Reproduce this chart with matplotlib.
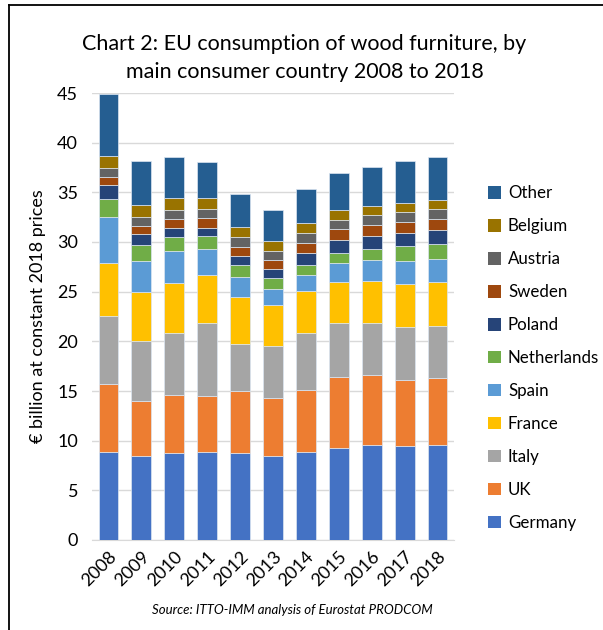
import numpy as np
import matplotlib
matplotlib.use("Agg")
import matplotlib.pyplot as plt
from matplotlib.patches import Patch
from matplotlib.lines import Line2D

plt.rcParams["font.family"] = ["Lato", "DejaVu Sans"]

years = ["2008", "2009", "2010", "2011", "2012", "2013", "2014", "2015", "2016", "2017", "2018"]

germany = [8.83, 8.46, 8.76, 8.83, 8.76, 8.46, 8.83, 9.23, 9.54, 9.47, 9.54]
uk = [6.85, 5.51, 5.88, 5.71, 6.25, 5.84, 6.31, 7.22, 7.08, 6.68, 6.78]
italy = [6.92, 6.11, 6.21, 7.32, 4.77, 5.18, 5.65, 5.38, 5.21, 5.27, 5.27]
france = [5.27, 4.84, 5.01, 4.84, 4.67, 4.13, 4.23, 4.19, 4.26, 4.37, 4.37]
spain = [4.60, 3.18, 3.19, 2.55, 1.98, 1.68, 1.68, 1.85, 2.08, 2.25, 2.28]
netherlands = [1.85, 1.55, 1.44, 1.34, 1.27, 1.10, 1.00, 1.01, 1.15, 1.54, 1.58]
poland = [1.38, 1.18, 0.94, 0.84, 0.88, 0.88, 1.18, 1.31, 1.27, 1.28, 1.41]
sweden = [0.87, 0.80, 0.87, 0.94, 0.94, 0.94, 1.04, 1.11, 1.14, 1.11, 1.07]
austria = [0.91, 0.91, 0.94, 0.97, 0.97, 0.90, 0.94, 0.94, 0.94, 1.00, 1.01]
belgium = [1.17, 1.14, 1.15, 1.11, 1.04, 1.01, 1.04, 1.00, 0.94, 0.98, 0.87]
other = [6.25, 4.43, 4.13, 3.60, 3.33, 3.12, 3.43, 3.70, 3.97, 4.20, 4.34]

series = [
    ("Germany", germany, "#4472C4"),
    ("UK", uk, "#ED7D31"),
    ("Italy", italy, "#A5A5A5"),
    ("France", france, "#FFC000"),
    ("Spain", spain, "#5B9BD5"),
    ("Netherlands", netherlands, "#70AD47"),
    ("Poland", poland, "#264478"),
    ("Sweden", sweden, "#9E480E"),
    ("Austria", austria, "#636363"),
    ("Belgium", belgium, "#997300"),
    ("Other", other, "#255E91"),
]

fig = plt.figure(figsize=(6.03, 6.30), dpi=100)
ax = fig.add_axes([92 / 603, 1 - 540 / 630, 362 / 603, 447 / 630])

x = np.arange(len(years))
bottom = np.zeros(len(years))
for name, vals, col in series:
    ax.bar(x, vals, 0.6, bottom=bottom, color=col, edgecolor="#DCE6F2",
           linewidth=0.5, label=name, zorder=3)
    bottom += np.array(vals)

ax.set_xlim(-0.5, len(years) - 0.5)
ax.set_ylim(0, 45)
ax.set_yticks(range(0, 46, 5))
ax.grid(axis="y", color="#D9D9D9", linewidth=1, zorder=0)
for s in ["top", "right", "left"]:
    ax.spines[s].set_visible(False)
ax.spines["bottom"].set_color("#D9D9D9")
ax.tick_params(length=0, labelsize=13, pad=10)
ax.set_xticks(x)
ax.set_xticklabels(years, rotation=45, ha="right", rotation_mode="anchor")
ax.tick_params(axis="x", pad=6)
ax.set_ylabel("€ billion at constant 2018 prices", fontsize=13, labelpad=8)

handles = [Patch(facecolor=c, edgecolor="none") for _, _, c in series][::-1]
labels = [n for n, _, _ in series][::-1]
fig.legend(handles, labels, loc="upper left", bbox_to_anchor=(480 / 603, 1 - 177 / 630),
           frameon=False, fontsize=12.2, handlelength=0.75, handleheight=0.75,
           handletextpad=0.4, labelspacing=1.0, borderpad=0)

fig.text(0.505, 1 - 58 / 630, "Chart 2: EU consumption of wood furniture, by\nmain consumer country 2008 to 2018",
         ha="center", va="center", fontsize=15.5, linespacing=1.45)
fig.text(292 / 603, 1 - 610 / 630, "Source: ITTO-IMM analysis of Eurostat PRODCOM",
         ha="center", va="center", fontsize=9.5, style="italic")

# border lines (top and left) as in the screenshot
fig.add_artist(Line2D([9 / 603, 1], [1 - 5 / 630, 1 - 5 / 630], color="black", linewidth=1.3, transform=fig.transFigure))
fig.add_artist(Line2D([9 / 603, 9 / 603], [0, 1 - 5 / 630], color="black", linewidth=1.3, transform=fig.transFigure))

fig.savefig("out.png", dpi=100)
